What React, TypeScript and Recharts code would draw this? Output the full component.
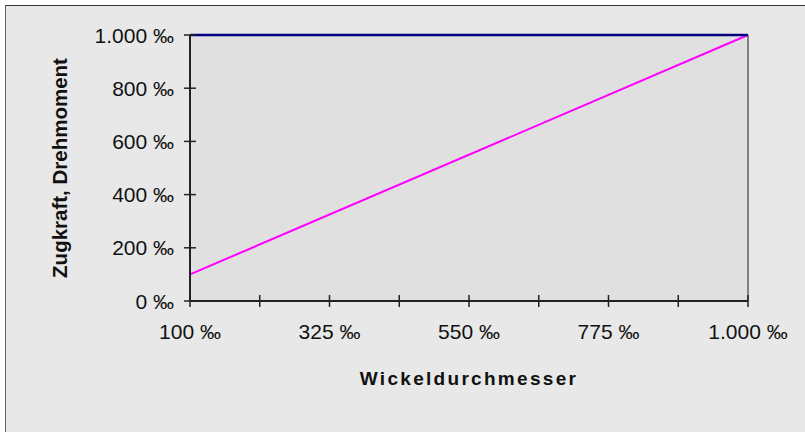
import React from 'react';
import { LineChart, Line, XAxis, YAxis, CartesianGrid, ReferenceLine } from 'recharts';

const diameters = [100, 1000];
const tension = [1000, 1000];
const torque = [100, 1000];
const xTicks = [100, 212.5, 325, 437.5, 550, 662.5, 775, 887.5, 1000];
const xLabelTicks = [100, 325, 550, 775, 1000];
const yTicks = [0, 200, 400, 600, 800, 1000];

const data = diameters.map((d, i) => ({ d, tension: tension[i], torque: torque[i] }));

const FONT = '"Liberation Sans", Arial, sans-serif';

function fmt(v: number): string {
  const n = Math.round(v);
  const s = n >= 1000 ? `${Math.floor(n / 1000)}.${String(n % 1000).padStart(3, '0')}` : String(n);
  return `${s} \u2030`;
}

const XTick = (props: any) => {
  const { x, y, payload } = props;
  const show = xLabelTicks.includes(payload.value);
  return (
    <g>
      <line x1={x} x2={x} y1={y - 6} y2={y + 6} stroke="#222" strokeWidth={1.5} />
      {show && (
        <text x={x} y={y + 38} textAnchor="middle" fontFamily={FONT} fontSize={21} fill="#111">
          {fmt(payload.value)}
        </text>
      )}
    </g>
  );
};

const YTick = (props: any) => {
  const { x, y, payload } = props;
  return (
    <g>
      <line x1={x - 6} x2={x + 6} y1={y} y2={y} stroke="#222" strokeWidth={1.5} />
      <text x={x - 16} y={y} dy="0.36em" textAnchor="end" fontFamily={FONT} fontSize={21} fill="#111">
        {fmt(payload.value)}
      </text>
    </g>
  );
};

export default function App() {
  return (
    <div style={{ position: 'fixed', left: 0, top: 0, width: 805, height: 432, overflow: 'hidden', background: '#fff' }}>
      <div
        style={{
          position: 'absolute',
          left: 5,
          top: 5,
          width: 820,
          height: 450,
          background: '#e8e8e8',
          borderTop: '1.5px solid #333',
          borderLeft: '1.5px solid #666',
        }}
      />
      <div style={{ position: 'absolute', left: 0, top: 0 }}>
        <LineChart width={805} height={432} data={data} margin={{ top: 35, right: 57, bottom: 0, left: 0 }}>
          <CartesianGrid fill="#e0e0e0" horizontal={false} vertical={false} />
          <XAxis
            dataKey="d"
            type="number"
            domain={[100, 1000]}
            ticks={xTicks}
            interval={0}
            tickSize={0}
            tickMargin={0}
            tickLine={false}
            tick={<XTick />}
            axisLine={{ stroke: '#222', strokeWidth: 2 }}
            height={131}
            label={{
              value: 'Wickeldurchmesser',
              position: 'insideTop',
              offset: 71,
              style: { fontFamily: FONT, fontSize: 19, fontWeight: 'bold', letterSpacing: 2.3, fill: '#111' },
            }}
          />
          <YAxis
            type="number"
            domain={[0, 1000]}
            ticks={yTicks}
            interval={0}
            tickSize={0}
            tickMargin={0}
            tickLine={false}
            tick={<YTick />}
            axisLine={{ stroke: '#222', strokeWidth: 2 }}
            width={190}
            label={{
              value: 'Zugkraft, Drehmoment',
              angle: -90,
              position: 'insideLeft',
              offset: 60,
              style: { textAnchor: 'middle', fontFamily: FONT, fontSize: 20.5, fontWeight: 'bold', fill: '#111' },
            }}
          />
          <ReferenceLine x={1000} stroke="#808080" strokeWidth={2} />
          <Line dataKey="torque" stroke="#ff00ff" strokeWidth={2} dot={false} isAnimationActive={false} />
          <Line dataKey="tension" stroke="#000080" strokeWidth={2.5} dot={false} isAnimationActive={false} />
        </LineChart>
      </div>
    </div>
  );
}
